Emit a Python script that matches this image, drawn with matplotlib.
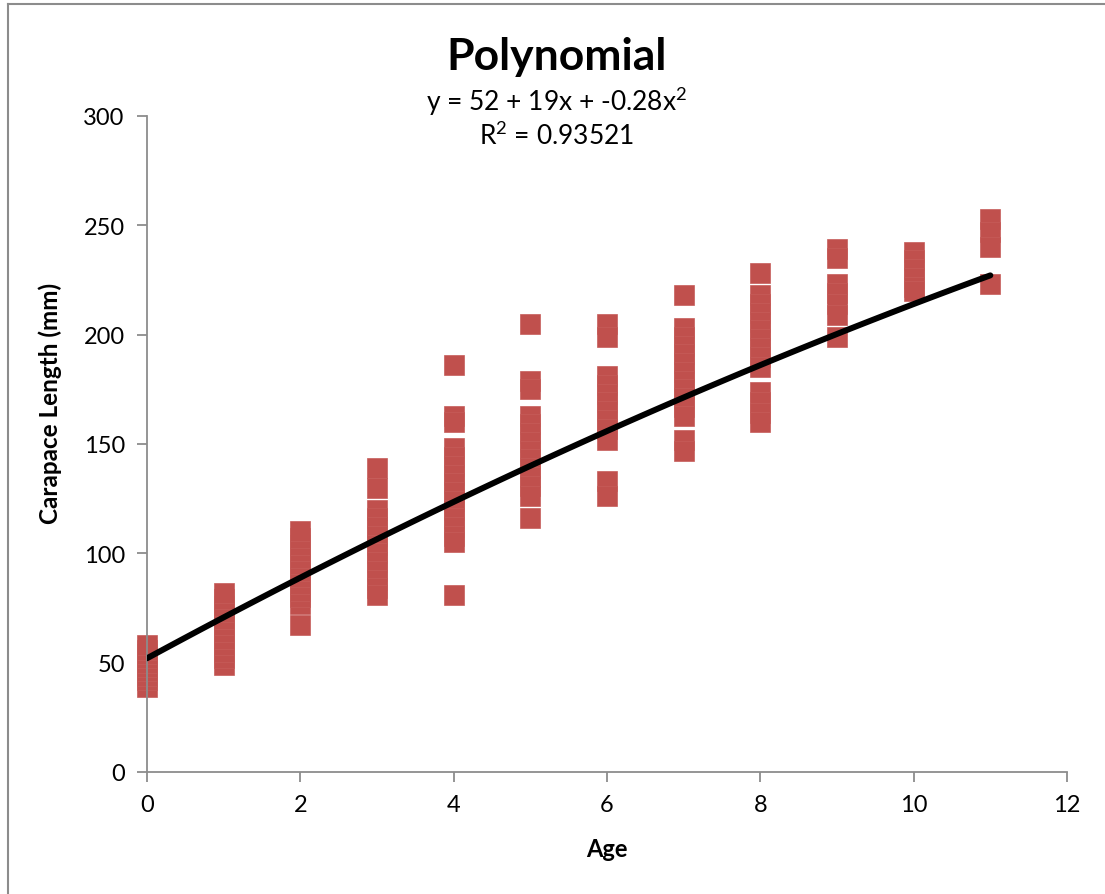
import numpy as np
import matplotlib.pyplot as plt
from matplotlib.lines import Line2D

plt.rcParams['font.family'] = ['Lato', 'DejaVu Sans']
plt.rcParams['mathtext.fontset'] = 'custom'
plt.rcParams['mathtext.rm'] = 'Lato'

# carapace length (mm) by age
ages = [0, 1, 2, 3, 4, 5, 6, 7, 8, 9, 10, 11]
lengths = [
    [39, 42, 44, 46, 48, 50, 52, 54, 56, 58],
    [49, 52, 55, 58, 61, 64, 67, 70, 73, 76, 79, 82],
    [67, 77, 80, 83, 86, 89, 92, 95, 98, 101, 104, 107, 110],
    [139, 130, 120, 116, 112, 108, 104, 100, 96, 92, 88, 84, 81],
    [186, 163, 160, 148, 144, 140, 136, 132, 128, 124, 120, 116, 112, 108, 105, 81],
    [205, 179, 175, 163, 159, 155, 151, 147, 143, 139, 135, 131, 126, 116],
    [205, 199, 181, 177, 173, 169, 165, 161, 157, 152, 133, 126],
    [218, 203, 199, 195, 191, 187, 183, 179, 175, 171, 167, 163, 152, 147],
    [228, 218, 214, 210, 206, 202, 198, 194, 190, 185, 174, 169, 164, 160],
    [239, 235, 223, 219, 214, 209, 199],
    [238, 234, 230, 226, 222, 220],
    [253, 247, 240, 223],
]
coef = [52, 19, -0.28]  # y = c0 + c1 x + c2 x^2

xs = []
ys = []
for a, vals in zip(ages, lengths):
    xs += [a] * len(vals)
    ys += vals

fig = plt.figure(figsize=(11.05, 8.95), dpi=100)
ax = fig.add_axes([147/1105, 1 - 773/895, 920/1105, 656/895])

ax.plot(xs, ys, 's', color='#C0504D', markersize=14.5,
        markeredgecolor='#c65c59', markeredgewidth=0.5, zorder=2, clip_on=False)

xfit = np.linspace(0, 11, 100)
yfit = coef[0] + coef[1]*xfit + coef[2]*xfit**2
ax.plot(xfit, yfit, color='black', linewidth=4.3, solid_capstyle='round', zorder=3)

ax.set_xlim(0, 12)
ax.set_ylim(0, 300)
ax.set_xticks(range(0, 13, 2))
ax.set_yticks(range(0, 301, 50))
for s in ['top', 'right']:
    ax.spines[s].set_visible(False)
for s in ['left', 'bottom']:
    ax.spines[s].set_color('#8c8c8c')
    ax.spines[s].set_linewidth(1.3)
ax.tick_params(direction='out', length=7, width=1.3, color='#8c8c8c',
               labelsize=17, pad=9)

fig.text(607/1105, 1 - 850/895, 'Age', ha='center', va='center',
         fontsize=17, fontweight='bold')
fig.text(50/1105, 1 - 403/895, 'Carapace Length (mm)', ha='center', va='center',
         rotation=90, fontsize=17.5, fontweight='bold')

fig.text(557/1105, 1 - 57/895, 'Polynomial', ha='center', va='center',
         fontsize=32, fontweight='bold')
fig.text(557/1105, 1 - 101/895, 'y = 52 + 19x + -0.28x$^2$', ha='center', va='center',
         fontsize=19)
fig.text(557/1105, 1 - 136/895, 'R$^2$ = 0.93521', ha='center', va='center',
         fontsize=19)

# chart area frame (left and top edges only)
fig.add_artist(Line2D([8/1105, 8/1105], [0, 1 - 5/895], transform=fig.transFigure,
                      color='#8c8c8c', linewidth=1.5))
fig.add_artist(Line2D([8/1105, 1], [1 - 5/895, 1 - 5/895], transform=fig.transFigure,
                      color='#8c8c8c', linewidth=1.5))

fig.savefig('out.png', dpi=100)
